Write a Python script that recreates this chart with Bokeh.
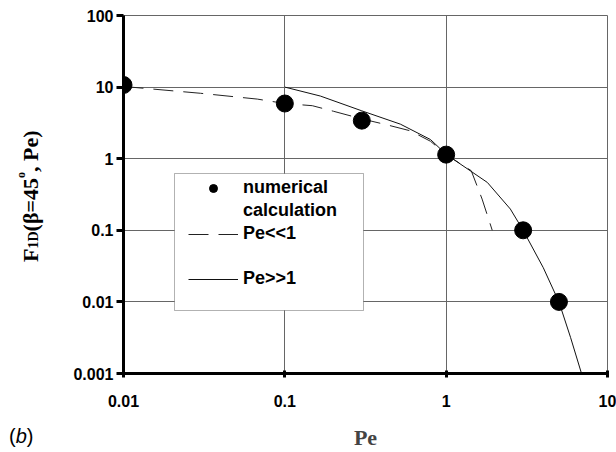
from bokeh.embed import file_html
from bokeh.layouts import row
from bokeh.models import BoxAnnotation, Div, FixedTicker, Legend, LegendItem, Range1d
from bokeh.plotting import figure
from bokeh.resources import INLINE

# Numerical calculation of F_1D at beta = 45 degrees
pe_numerical = [0.01, 0.1, 0.3, 1.0, 3.0, 5.0]
f_numerical = [10.7, 5.9, 3.4, 1.14, 0.1, 0.01]

# Asymptotic solution for Pe << 1
pe_small = [0.01, 0.03, 0.0675, 0.1, 0.148, 0.2, 0.3, 0.43, 0.6, 0.8, 1.0, 1.43, 1.67, 1.93]
f_small = [10.2, 8.2, 6.8, 5.9, 5.5, 4.6, 3.6, 2.97, 2.45, 1.75, 1.14, 0.68, 0.273, 0.1]

# Asymptotic solution for Pe >> 1
pe_large = [0.1, 0.166, 0.3, 0.52, 0.8, 1.0, 1.8, 2.5, 3.0, 4.0, 5.0, 5.9, 7.0]
f_large = [10.0, 7.5, 4.66, 3.04, 1.85, 1.15, 0.466, 0.198, 0.1, 0.03, 0.01, 0.0032, 0.0009]

x_ticks = [0.01, 0.1, 1, 10]
x_tick_labels = ["0.01", "0.1", "1", "10"]
y_ticks = [0.001, 0.01, 0.1, 1, 10, 100]
y_tick_labels = ["0.001", "0.01", "0.1", "1", "10", "100"]

SANS = "Liberation Sans"
SERIF = "Liberation Serif"
GRID = "#666666"
SIDE_W = 60  # width of the strip that carries the vertical title

p = figure(
    width=616 - SIDE_W, height=452,
    x_axis_type="log", y_axis_type="log",
    x_range=Range1d(0.01, 10), y_range=Range1d(0.001, 100),
    output_backend="svg", toolbar_location=None,
    min_border_left=123 - SIDE_W, min_border_right=9,
    min_border_top=15, min_border_bottom=79,
)
p.background_fill_color = "white"
p.border_fill_color = "white"
p.outline_line_color = GRID
p.outline_line_width = 1

# axes
for ax, ticks, labels in ((p.xaxis[0], x_ticks, x_tick_labels),
                          (p.yaxis[0], y_ticks, y_tick_labels)):
    ax.ticker = FixedTicker(ticks=ticks, minor_ticks=[])
    ax.major_label_overrides = {t: s for t, s in zip(ticks, labels)}
    ax.axis_line_width = 3
    ax.axis_line_color = "black"
    ax.major_tick_line_width = 3
    ax.major_tick_line_color = "black"
    ax.minor_tick_line_color = None
    ax.major_label_text_font = SANS
    ax.major_label_text_font_style = "bold"
    ax.major_label_text_font_size = "16px"
    ax.major_label_text_color = "black"

p.xaxis.major_tick_in = 3
p.xaxis.major_tick_out = 4
p.xaxis.major_label_standoff = 17
p.yaxis.major_tick_in = 0
p.yaxis.major_tick_out = 7
p.yaxis.major_label_standoff = 3

p.xaxis.axis_label = "Pe"
p.xaxis.axis_label_text_font = SERIF
p.xaxis.axis_label_text_font_style = "bold"
p.xaxis.axis_label_text_font_size = "22px"
p.xaxis.axis_label_standoff = 15

p.xgrid.ticker = FixedTicker(ticks=x_ticks, minor_ticks=[])
p.ygrid.ticker = FixedTicker(ticks=y_ticks, minor_ticks=[])
p.grid.grid_line_color = GRID
p.grid.grid_line_width = 1

# data
r_small = p.line(pe_small, f_small, line_color="#222222", line_width=1, line_dash="20 10")
r_large = p.line(pe_large, f_large, line_color="#111111", line_width=1)
r_num = p.scatter(pe_numerical, f_numerical, size=17, marker="circle",
                  fill_color="black", line_color="black")
# empty renderer used for legend rows that carry only text
r_blank = p.scatter([], [], size=1, fill_alpha=0, line_alpha=0)

# legend frame
p.add_layout(BoxAnnotation(
    left=174 - SIDE_W, right=363 - SIDE_W, top=173, bottom=310,
    left_units="canvas", right_units="canvas", top_units="canvas", bottom_units="canvas",
    fill_color="white", fill_alpha=1.0, line_color="black", line_width=1,
))

legend = Legend(
    items=[LegendItem(label="numerical", renderers=[r_num]),
           LegendItem(label="calculation", renderers=[r_blank]),
           LegendItem(label="Pe<<1", renderers=[r_small]),
           LegendItem(label=" ", renderers=[r_blank]),
           LegendItem(label="Pe>>1", renderers=[r_large])],
    location=(65, 84),
    orientation="vertical",
    padding=0, margin=0, spacing=2,
    glyph_width=50, glyph_height=20, label_height=20, label_standoff=5,
    label_text_font=SANS, label_text_font_style="bold",
    label_text_font_size="18px", label_text_color="black",
    border_line_color=None, background_fill_alpha=0.0,
)
p.add_layout(legend, "center")

# vertical title with subscript and degree mark, plus the panel tag
side_html = f"""
<div style="position:relative;width:{SIDE_W}px;height:452px;background:white;">
  <div style="position:absolute;left:20px;top:262px;transform:rotate(-90deg);
              transform-origin:0 0;white-space:nowrap;color:#000;
              font-family:'{SERIF}';font-weight:bold;font-size:22px;line-height:22px;">F<span
      style="font-size:14px;">1D</span>(&beta;=45<span
      style="font-size:12px;position:relative;top:-13px;">o</span>, Pe)</div>
  <div style="position:absolute;left:9px;top:426px;white-space:nowrap;color:#000;
              font-family:'{SANS}';font-size:20px;line-height:20px;">(<i>b</i>)</div>
</div>
"""
side = Div(text=side_html, width=SIDE_W, height=452, margin=(0, 0, 0, 0))

open("out.html", "w").write(file_html(row(side, p, spacing=0), INLINE))
